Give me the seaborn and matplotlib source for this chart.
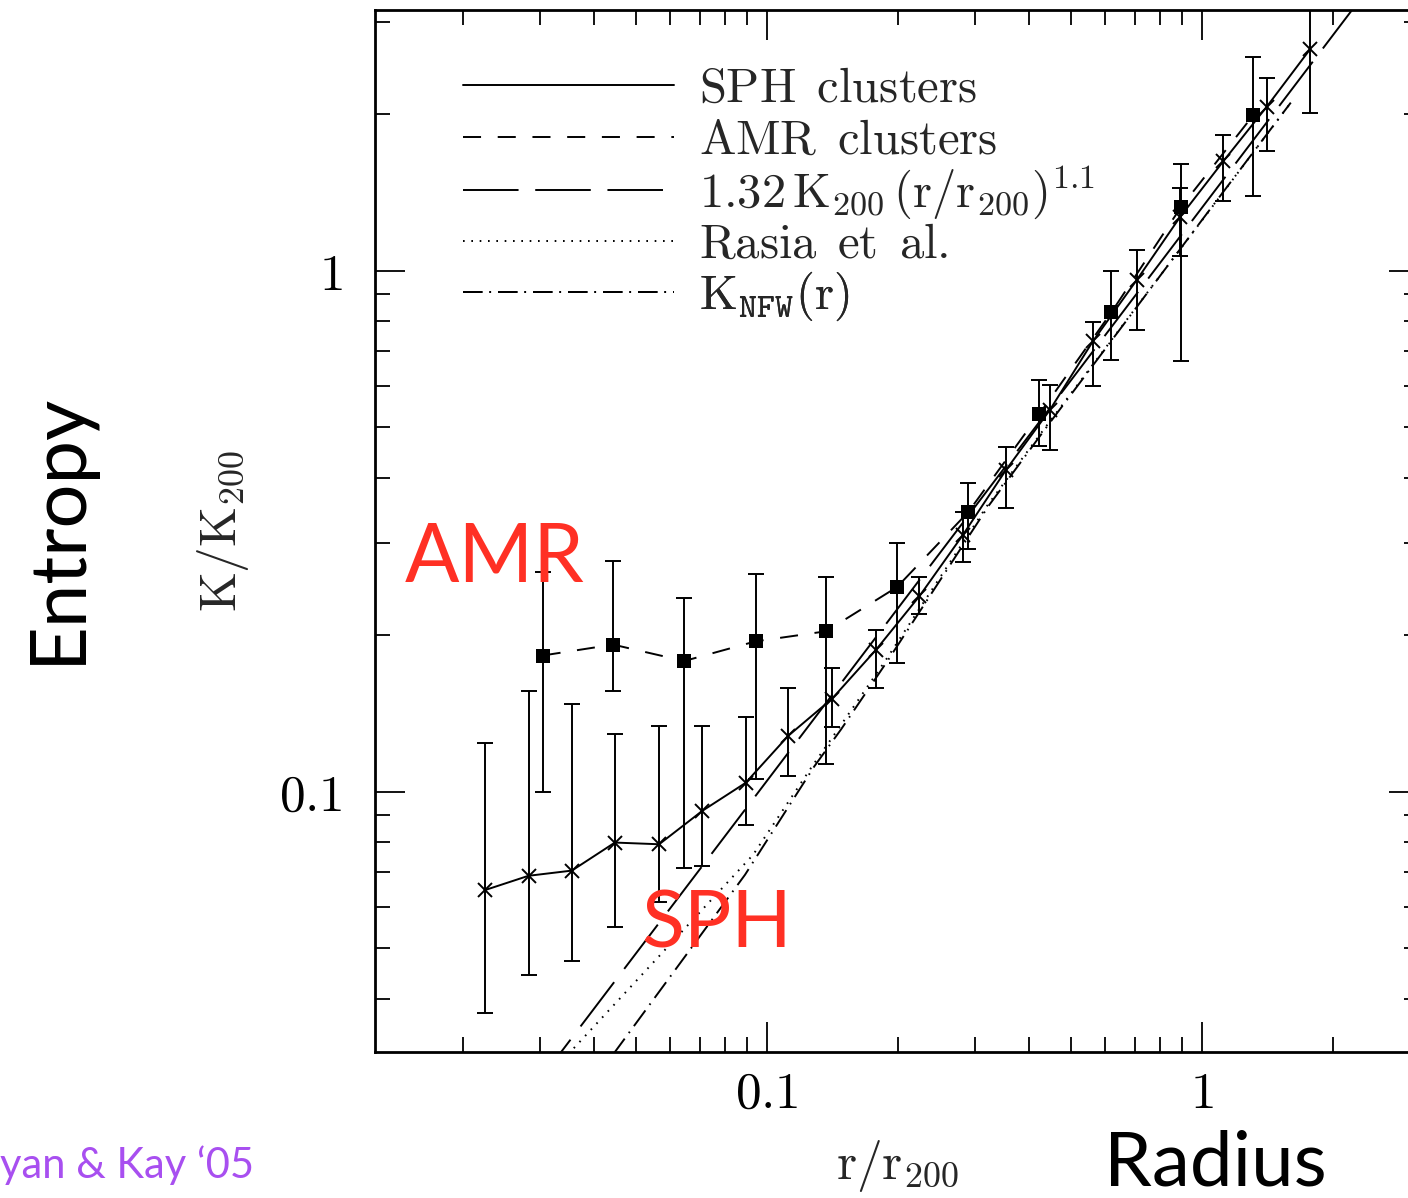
import matplotlib
matplotlib.use("Agg")
import matplotlib.pyplot as plt
import numpy as np
import pandas as pd
import seaborn as sns
from matplotlib.lines import Line2D

# --- SPH clusters: radius, entropy and error-bar limits -----------------
sph_r = [0.0225, 0.0283, 0.0356, 0.0447, 0.0565, 0.0710, 0.0893, 0.112, 0.141, 0.178,
         0.224, 0.282, 0.354, 0.447, 0.561, 0.708, 0.890, 1.119, 1.408, 1.771]
sph_k = [0.0647, 0.0689, 0.0705, 0.0798, 0.0792, 0.0918, 0.1039, 0.128, 0.1506, 0.187,
         0.237, 0.3107, 0.4137, 0.540, 0.731, 0.959, 1.266, 1.620, 2.061, 2.657]
sph_lo = [0.0375, 0.0444, 0.0473, 0.0550, 0.0614, 0.0721, 0.0863, 0.1073, 0.1328, 0.158,
          0.2187, 0.276, 0.3497, 0.453, 0.601, 0.770, 1.065, 1.357, 1.694, 2.007]
sph_hi = [0.124, 0.1557, 0.1469, 0.129, 0.1337, 0.1337, 0.139, 0.158, 0.1726, 0.204,
          0.258, 0.3445, 0.459, 0.604, 0.796, 1.097, 1.443, 1.823, 2.340, 3.300]

# --- AMR clusters ----------------------------------------------------------
amr_r = [0.0305, 0.0443, 0.0645, 0.0942, 0.1367, 0.199, 0.2903, 0.4226, 0.6193, 0.895, 1.312]
amr_k = [0.1824, 0.1914, 0.178, 0.1942, 0.203, 0.2468, 0.344, 0.530, 0.8315, 1.324, 1.987]
amr_lo = [0.100, 0.1557, 0.0714, 0.1056, 0.113, 0.1766, 0.2924, 0.4595, 0.672, 0.671, 1.390]
amr_hi = [0.264, 0.2773, 0.235, 0.262, 0.258, 0.2995, 0.391, 0.617, 0.997, 1.600, 2.570]

# --- baseline power law 1.32 K200 (r/r200)^1.1 ----------------------------
pl_norm = 1.32
pl_slope = 1.1

# --- Rasia et al. profile ---------------------------------------------------
rasia_r = [0.0349, 0.0929, 0.1269, 0.1456, 0.1867, 0.3204, 0.4356, 1.000, 1.60]
rasia_k = [0.0313, 0.0756, 0.1117, 0.1316, 0.1778, 0.3532, 0.4990, 1.248, 2.10]

# --- K_NFW(r) profile -------------------------------------------------------
nfw_r = [0.0443, 0.0890, 0.1284, 0.1480, 0.1890, 0.3230, 0.4380, 1.000, 1.60]
nfw_k = [0.0313, 0.0692, 0.1117, 0.1316, 0.1778, 0.3532, 0.4990, 1.250, 2.10]

x_lim = (10 ** -1.9, 10 ** 0.5)
y_lim = (10 ** -1.5, 10 ** 0.5)
xtick_vals = [0.1, 1]
xtick_text = [r"$\mathrm{0.1}$", r"$\mathrm{1}$"]
ytick_vals = [0.1, 1]
ytick_text = [r"$\mathrm{0.1}$", r"$\mathrm{1}$"]

legend_labels = [
    r"$\mathrm{SPH\ \,clusters}$",
    r"$\mathrm{AMR\ \,clusters}$",
    r"$\mathrm{1.32\,K_{200}\,(r/r_{200})^{1.1}}$",
    r"$\mathrm{Rasia\ \,et\ \,al.}$",
    r"$\mathrm{K_{\mathtt{NFW}}(r)}$",
]

sns.set_theme(style="ticks")
plt.rcParams.update({
    "mathtext.fontset": "cm",
    "lines.scale_dashes": False,
    "axes.linewidth": 2.0,
    "xtick.direction": "in",
    "ytick.direction": "in",
    "xtick.top": True,
    "ytick.right": True,
    "xtick.major.size": 21.6,
    "ytick.major.size": 21.6,
    "xtick.minor.size": 10.8,
    "ytick.minor.size": 10.8,
    "xtick.major.width": 1.3,
    "ytick.major.width": 1.3,
    "xtick.minor.width": 1.3,
    "ytick.minor.width": 1.3,
    "xtick.color": "black",
    "ytick.color": "black",
    "axes.edgecolor": "black",
})
plt.rcParams["font.family"] = ["DejaVu Sans"]

W, H = 1408, 1198
fig = plt.figure(figsize=(W / 100, H / 100), dpi=100)
ax = fig.add_axes([375.5 / W, 1 - 1052 / H, 1044 / W, 1042 / H])

sph = pd.DataFrame({"r": sph_r, "K": sph_k})
amr = pd.DataFrame({"r": amr_r, "K": amr_k})
pl_r = np.array(x_lim)
pl = pd.DataFrame({"r": pl_r, "K": pl_norm * pl_r ** pl_slope})
rasia = pd.DataFrame({"r": rasia_r, "K": rasia_k})
nfw = pd.DataFrame({"r": nfw_r, "K": nfw_k})

lw = 1.4
dash_amr = (0, (13, 12))
dash_pl = (0, (40, 12))
dash_dot = (0, (1.2, 4.8))
dash_nfw = (0, (14, 5, 1.2, 5))

ax.set_xscale("log")
ax.set_yscale("log")

# error bars
ax.errorbar(sph_r, sph_k,
            yerr=[np.array(sph_k) - np.array(sph_lo), np.array(sph_hi) - np.array(sph_k)],
            fmt="none", ecolor="black", elinewidth=1.4, capsize=6, capthick=1.4, zorder=3)
ax.errorbar(amr_r, amr_k,
            yerr=[np.array(amr_k) - np.array(amr_lo), np.array(amr_hi) - np.array(amr_k)],
            fmt="none", ecolor="black", elinewidth=1.4, capsize=6, capthick=1.4, zorder=3)

sns.lineplot(data=pl, x="r", y="K", ax=ax, color="black", lw=lw, linestyle=dash_pl,
             sort=False, estimator=None)
sns.lineplot(data=rasia, x="r", y="K", ax=ax, color="black", lw=lw, linestyle=dash_dot,
             sort=False, estimator=None)
sns.lineplot(data=nfw, x="r", y="K", ax=ax, color="black", lw=lw, linestyle=dash_nfw,
             sort=False, estimator=None)
sns.lineplot(data=sph, x="r", y="K", ax=ax, color="black", lw=lw, marker="x",
             markersize=10, markeredgewidth=1.4, markeredgecolor="black",
             sort=False, estimator=None, zorder=4)
sns.lineplot(data=amr, x="r", y="K", ax=ax, color="black", lw=lw, linestyle=dash_amr,
             marker="s", markersize=10.5, markeredgewidth=0, markerfacecolor="black",
             sort=False, estimator=None, zorder=4)

ax.set_xlim(*x_lim)
ax.set_ylim(*y_lim)
ax.set_xticks(xtick_vals)
ax.set_xticklabels(xtick_text)
ax.set_yticks(ytick_vals)
ax.set_yticklabels(ytick_text)
ax.tick_params(axis="x", which="major", labelsize=37, pad=12)
ax.tick_params(axis="y", which="major", labelsize=37, pad=24)
ax.set_xlabel(r"$\mathrm{r/r_{200}}$", fontsize=37, labelpad=14)
ax.set_ylabel(r"$\mathrm{K/K_{200}}$", fontsize=37, labelpad=20)
for s in ax.spines.values():
    s.set_linewidth(2.0)

# one legend row per curve, stacked at an even pitch
handles = [
    Line2D([], [], color="black", lw=lw),
    Line2D([], [], color="black", lw=lw, linestyle=dash_amr),
    Line2D([], [], color="black", lw=lw, linestyle=dash_pl),
    Line2D([], [], color="black", lw=lw, linestyle=dash_dot),
    Line2D([], [], color="black", lw=lw, linestyle=dash_nfw),
]
row_y = [0.9251, 0.8752, 0.8253, 0.7754, 0.7255]
for h, lab, yy in zip(handles, legend_labels, row_y):
    leg = ax.legend([h], [lab], loc="center left", bbox_to_anchor=(0.0838, yy),
                    frameon=False, fontsize=35, handlelength=4.35, handletextpad=0.5,
                    borderpad=0, borderaxespad=0)
    ax.add_artist(leg)

red = "#FF3024"
fig.text(405 / W, 1 - 582 / H, "AMR", color=red, fontsize=58, family="Lato",
         ha="left", va="baseline")
fig.text(641 / W, 1 - 948 / H, "SPH", color=red, fontsize=57, family="Lato",
         ha="left", va="baseline")
fig.text(58 / W, 1 - 528 / H, "Entropy", color="black", fontsize=56, family="Lato",
         rotation=90, ha="center", va="center")
fig.text(1215 / W, 1 - 1186 / H, "Radius", color="black", fontsize=55, family="Lato",
         ha="center", va="baseline")
fig.text(0, 1 - 1178 / H, "yan & Kay \u201805", color="#A84FF0", fontsize=30,
         family="Lato", ha="left", va="baseline")

fig.savefig("out.png", dpi=100)
